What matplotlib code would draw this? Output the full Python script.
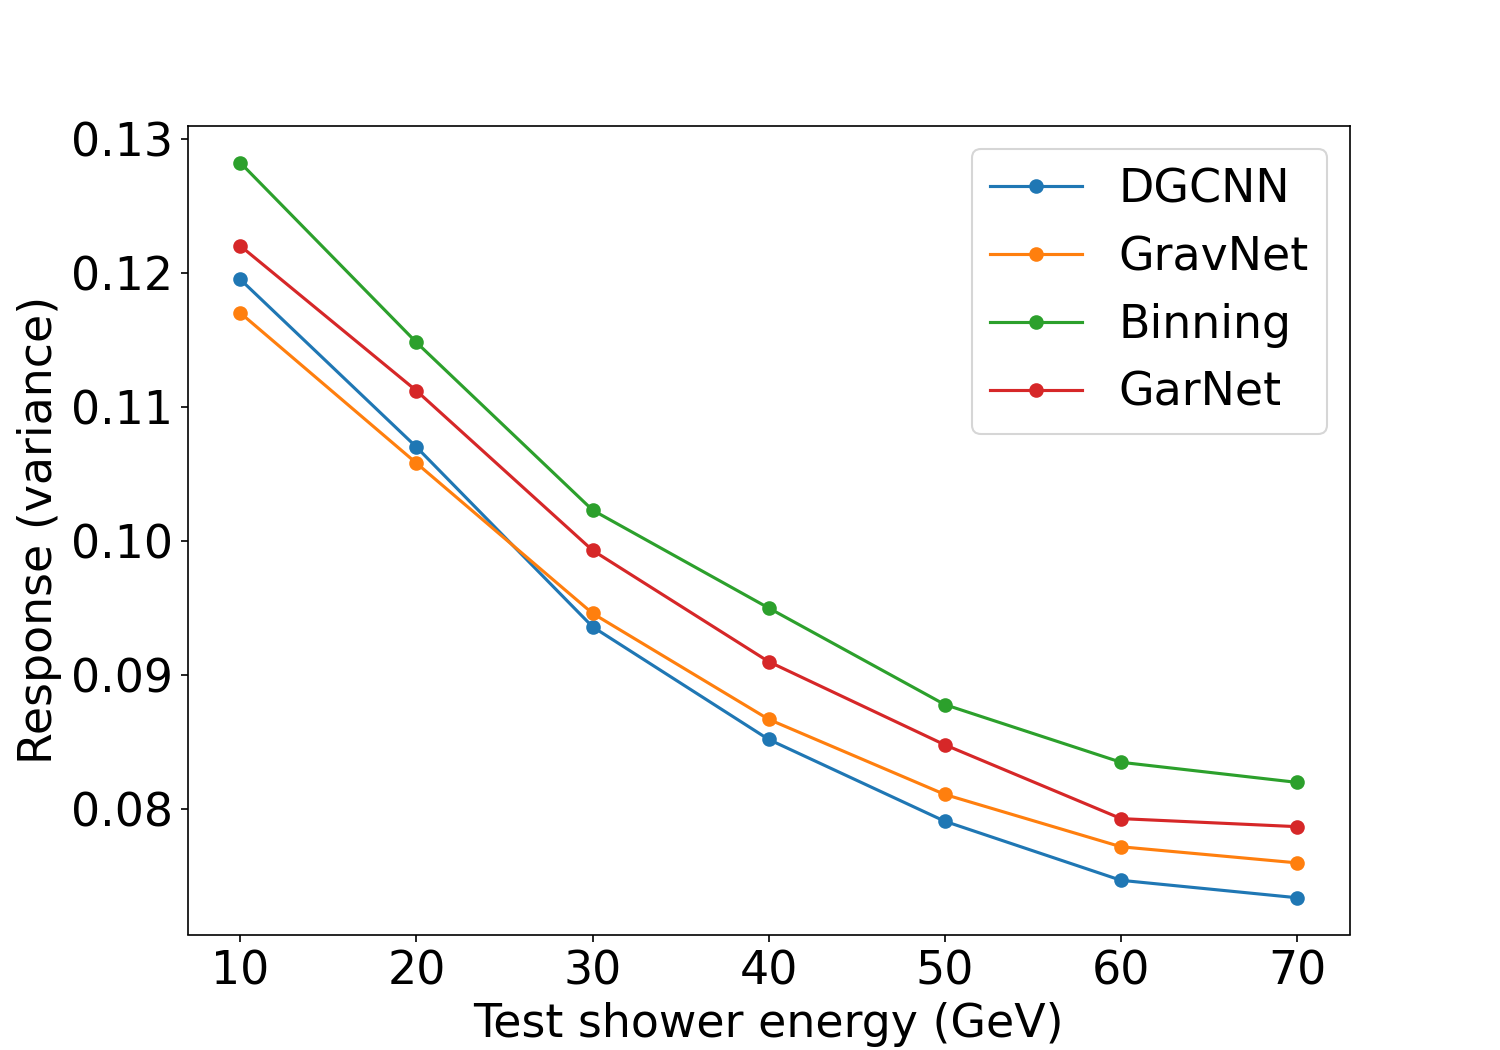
import matplotlib
matplotlib.use("Agg")
import matplotlib.pyplot as plt

energies = [10, 20, 30, 40, 50, 60, 70]
dgcnn = [0.1195, 0.1070, 0.0936, 0.0852, 0.0791, 0.0747, 0.0734]
gravnet = [0.1170, 0.1058, 0.0946, 0.0867, 0.0811, 0.0772, 0.0760]
binning = [0.1282, 0.1148, 0.1023, 0.0950, 0.0878, 0.0835, 0.0820]
garnet = [0.1220, 0.1112, 0.0993, 0.0910, 0.0848, 0.0793, 0.0787]
series = [("DGCNN", dgcnn), ("GravNet", gravnet), ("Binning", binning), ("GarNet", garnet)]
yticks = [0.08, 0.09, 0.10, 0.11, 0.12, 0.13]

fig, ax = plt.subplots(figsize=(10, 7), dpi=150)
for name, vals in series:
    ax.plot(energies, vals, marker="o", label=name)
ax.set_yticks(yticks)
ax.set_xticks(energies)
ax.tick_params(labelsize=22)
ax.set_xlabel("Test shower energy (GeV)", fontsize=22)
ax.set_ylabel("Response (variance)", fontsize=22)
ax.legend(fontsize=22, loc="upper right")
fig.savefig("out.png", dpi=150)
